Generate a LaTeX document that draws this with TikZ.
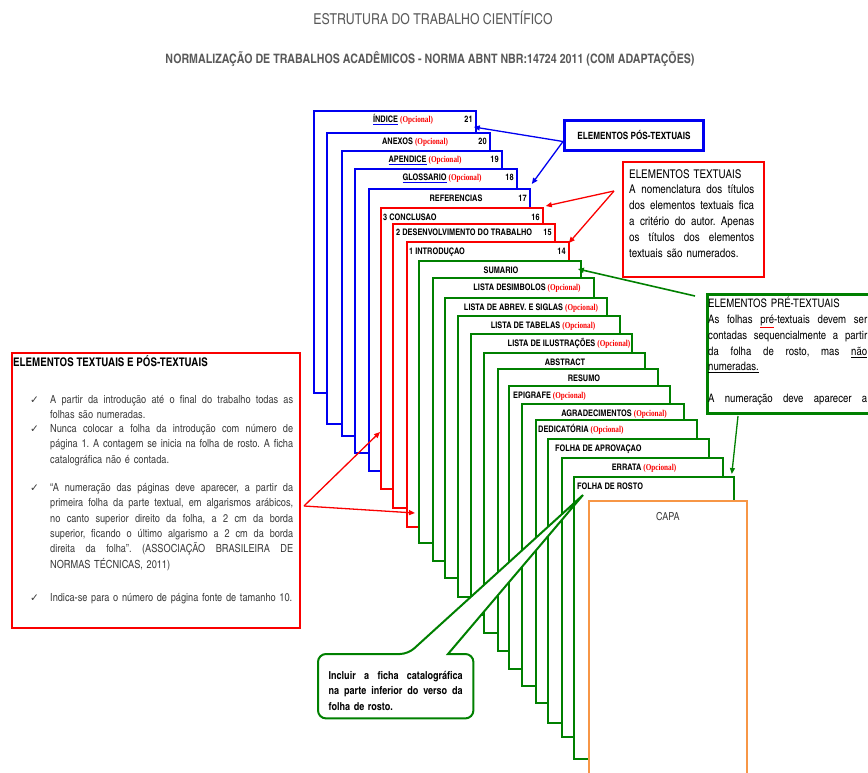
\documentclass[tikz,border=0pt]{standalone}
\usepackage{fontspec}
\setmainfont{texgyreheroscn}[Extension=.otf,UprightFont=*-regular,BoldFont=*-bold,ItalicFont=*-italic,BoldItalicFont=*-bolditalic]
\newfontfamily\opcfont{Liberation Serif}[FakeStretch=0.8]
\newfontfamily\checkfont{DejaVu Sans}
\usetikzlibrary{arrows.meta}
\definecolor{posblue}{RGB}{0,0,240}
\definecolor{txtred}{RGB}{250,0,0}
\definecolor{pregreen}{RGB}{0,128,0}
\definecolor{capaorange}{RGB}{247,150,70}
\definecolor{headgray}{RGB}{89,89,89}
\definecolor{bodygray}{RGB}{60,60,60}
\newcommand{\opc}{{\opcfont\bfseries\color{txtred}(Opcional)}}
\newcommand{\spellmark}[2][posblue]{{\color{#1}\underline{\color{black}#2}}}
\newcommand{\jline}[1]{\leavevmode\hbox to \hsize{\spaceskip=\fontdimen2\font plus 1fil\relax #1}\\}
\frenchspacing
\begin{document}
\begin{tikzpicture}
[x=1pt,y=-1pt,
  pagebox/.style={draw,fill=white,line width=1.8pt,inner sep=0pt,anchor=north west},%
  pagelabel/.style={font=\bfseries\fontsize{9}{10}\selectfont,inner sep=0pt},%
  notebox/.style={draw,fill=white,inner sep=0pt,anchor=north west},%
  notetext/.style={font=\fontsize{12}{15.8}\selectfont,inner sep=0pt,anchor=north west,align=left},%
  itemtext/.style={font=\fontsize{11.2}{15.4}\selectfont,text=bodygray,inner sep=0pt,anchor=north west,text width=243pt,align=left},%
  checkmark/.style={font=\checkfont\fontsize{10.5}{11}\selectfont,text=bodygray,inner sep=0pt},%
  tipped/.style={line width=1.3pt,-{Triangle[length=6pt,width=5pt]}}]
\useasboundingbox (0,0) rectangle (868,773);
\clip (0,0) rectangle (868,773);
%% headings
\node[font=\fontsize{15}{17}\selectfont,text=headgray] (head) at (433,18) {ESTRUTURA DO TRABALHO CIENTÍFICO};
\node[font=\bfseries\fontsize{13}{15}\selectfont,text=headgray] (subhead) at (430,59)
  {NORMALIZAÇÃO DE TRABALHOS ACADÊMICOS - NORMA ABNT NBR:14724 2011 (COM ADAPTAÇÕES)};
%% pages, back to front
\foreach \pname/\xl/\yt/\xr/\yb/\pcol in {indice/313/110/475/392/posblue,
  anexos/326/132/489/423/posblue, apendice/341/150/501/435/posblue,
  glossario/354/168/516/452/posblue, referencias/368/188/529/470/posblue,
  conclusao/380/207/542/488/txtred, desenvolv/392/223/554/507/txtred,
  introducao/406/241/568/526/txtred, sumario/418/260/580/542/pregreen,
  simbolos/432/277/593/560/pregreen, abrev/444/297/606/577/pregreen,
  tabelas/457/315/619/596/pregreen, ilustracoes/470/333/631/614/pregreen,
  abstract/483/352/644/632/pregreen, resumo/497/368/657/650/pregreen,
  epigrafe/508/385/669/668/pregreen, agradec/521/403/683/685/pregreen,
  dedicatoria/535/419/696/702/pregreen, aprovacao/547/438/708/722/pregreen,
  errata/561/457/722/736/pregreen, rosto/573/476/733/758/pregreen,
  capa/588/500/746/800/capaorange} {
  \node[pagebox,draw=\pcol,minimum width=\xr-\xl,minimum height=\yb-\yt] (\pname) at (\xl,\yt) {};
}
%% page titles
\foreach \pname/\dx/\anc/\ltext in {indice/90/base/{\spellmark{ÍNDICE} \opc},
  anexos/89/base/{ANEXOS \opc}, apendice/84/base/{\spellmark{APENDICE} \opc},
  glossario/88/base/{\spellmark{GLOSSARIO} \opc}, referencias/88/base/{REFERENCIAS},
  conclusao/3/base west/{3 CONCLUSAO}, desenvolv/4/base west/{2 DESENVOLVIMENTO DO TRABALHO},
  introducao/3/base west/{1 INTRODUÇAO}, sumario/83/base/{SUMARIO},
  simbolos/95/base/{LISTA DESIMBOLOS \opc}, abrev/87/base/{LISTA DE ABREV. E SIGLAS \opc},
  tabelas/86/base/{LISTA DE TABELAS \opc}, ilustracoes/99/base/{LISTA DE ILUSTRAÇÕES \opc},
  abstract/82/base/{ABSTRACT}, resumo/87/base/{RESUMO},
  epigrafe/5/base west/{EPIGRAFE \opc}, agradec/93/base/{AGRADECIMENTOS \opc},
  dedicatoria/3/base west/{DEDICATÓRIA \opc}, aprovacao/8/base west/{FOLHA DE APROVAÇAO},
  errata/83/base/{ERRATA \opc}, rosto/4/base west/{FOLHA DE ROSTO}} {
  \node[pagelabel,anchor=\anc] (\pname-title) at ([xshift=\dx pt,yshift=-13pt]\pname.north west) {\ltext};
}
%% page numbers
\foreach \pname/\num in {indice/21, anexos/20, apendice/19, glossario/18,
  referencias/17, conclusao/16, desenvolv/15, introducao/14} {
  \node[pagelabel,anchor=base east] (\pname-num) at ([xshift=-4pt,yshift=-13pt]\pname.north east) {\num};
}
\node[font=\fontsize{11}{13}\selectfont,text=bodygray] (capa-title) at ([yshift=-17pt]capa.north) {CAPA};
%% notes
\node[notebox,draw=posblue,line width=3pt,minimum width=139pt,minimum height=30pt,
  font=\bfseries\fontsize{10}{12}\selectfont] (posnote) at (563,119) {ELEMENTOS PÓS-TEXTUAIS};
\node[notebox,draw=txtred,line width=2.2pt,minimum width=141pt,minimum height=115pt] (textnote) at (622,161) {};
\node[notetext,text width=125pt] (textnote-text) at (629,169) {ELEMENTOS TEXTUAIS\\
  \jline{A nomenclatura dos títulos}
  \jline{dos elementos textuais fica}
  \jline{a critério do autor. Apenas}
  \jline{os títulos dos elementos}
  textuais são numerados.};
\node[notebox,draw=pregreen,line width=3pt,minimum width=170pt,minimum height=119pt] (prenote) at (706,293) {};
\node[notetext,text width=159pt,font=\fontsize{11.7}{15.8}\selectfont] (prenote-text) at (708,297) {ELEMENTOS PRÉ-TEXTUAIS\\
  \jline{As folhas \spellmark[txtred]{pré}-textuais devem ser}
  \jline{contadas sequencialmente a partir}
  \jline{da folha de rosto, mas \underline{não}}
  \underline{numeradas.}\\[15.8pt]
  \jline{A numeração deve aparecer a}};
\node[notebox,draw=txtred,line width=2pt,minimum width=288pt,minimum height=275pt] (leftnote) at (11,352) {};
\node[font=\bfseries\fontsize{11.9}{13}\selectfont,inner sep=0pt,anchor=base west] (leftnote-title) at (13,366)
  {ELEMENTOS TEXTUAIS E PÓS-TEXTUAIS};
\node[itemtext] (itemA) at (50,395) {\jline{A partir da introdução até o final do trabalho todas as}
  folhas são numeradas.};
\node[itemtext] (itemB) at (50,424) {\jline{Nunca colocar a folha da introdução com número de}
  \jline{página 1. A contagem se inicia na folha de rosto. A ficha}
  catalográfica não é contada.};
\node[itemtext] (itemC) at (50,483) {\jline{“A numeração das páginas deve aparecer, a partir da}
  \jline{primeira folha da parte textual, em algarismos arábicos,}
  \jline{no canto superior direito da folha, a 2 cm da borda}
  \jline{superior, ficando o último algarismo a 2 cm da borda}
  \jline{direita da folha”. (ASSOCIAÇÃO BRASILEIRA DE}
  NORMAS TÉCNICAS, 2011)};
\node[itemtext] (itemD) at (50,593) {Indica-se para o número de página fonte de tamanho 10.};
\foreach \item in {itemA, itemB, itemC, itemD} {
  \node[checkmark,anchor=base east] at ([xshift=-11pt,yshift=-8.5pt]\item.north west) {✓};
}
%% connectors
\coordinate (posfrom) at ([yshift=-6pt]posnote.west);
\draw[tipped,posblue] (posfrom) -- ([xshift=-3pt,yshift=-17pt]indice.north east);
\draw[tipped,posblue] (posfrom) -- ([xshift=1pt,yshift=4pt]referencias.north east);
\coordinate (textfrom) at ([xshift=-8pt,yshift=-30pt]textnote.north west);
\draw[tipped,txtred] (textfrom) -- ([xshift=2pt,yshift=1pt]conclusao.north east);
\draw[tipped,txtred] (textfrom) -- ([xshift=-1pt,yshift=-2pt]introducao.north east);
\coordinate (prefrom) at ([xshift=-11pt,yshift=-3pt]prenote.north west);
\draw[tipped,pregreen,line width=1.6pt] (prefrom) -- ([xshift=-4pt,yshift=-9pt]sumario.north east);
\draw[tipped,pregreen] ([xshift=32pt,yshift=-1pt]prenote.south west) -- ([xshift=-3pt,yshift=2pt]rosto.north east);
\coordinate (leftfrom) at ([xshift=3pt,yshift=-154pt]leftnote.north east);
\draw[tipped,txtred] (leftfrom) -- ([yshift=-225pt]conclusao.north west);
\draw[tipped,txtred] (leftfrom) -- ([xshift=9pt,yshift=-272pt]introducao.north west);
%% callout on the folha de rosto
\coordinate (fichatip) at ([xshift=10pt,yshift=-19pt]rosto.north west);
\node[inner sep=0pt,minimum width=155pt,minimum height=64pt,anchor=north west] (ficha) at (318,654) {};
\draw[pregreen,line width=2pt,fill=white] ([xshift=90pt]ficha.north west) -- (fichatip)
  -- ([xshift=130pt]ficha.north west) [rounded corners=8pt] -- (ficha.north east)
  -- (ficha.south east) -- (ficha.south west) -- (ficha.north west) -- cycle;
\node[font=\bfseries\fontsize{11}{15.5}\selectfont,inner sep=0pt,text width=134pt,align=left] (ficha-text) at ([yshift=-4.5pt]ficha.center)
  {\jline{Incluir a ficha catalográfica}
  \jline{na parte inferior do verso da}
  folha de rosto.};
\end{tikzpicture}
\end{document}
